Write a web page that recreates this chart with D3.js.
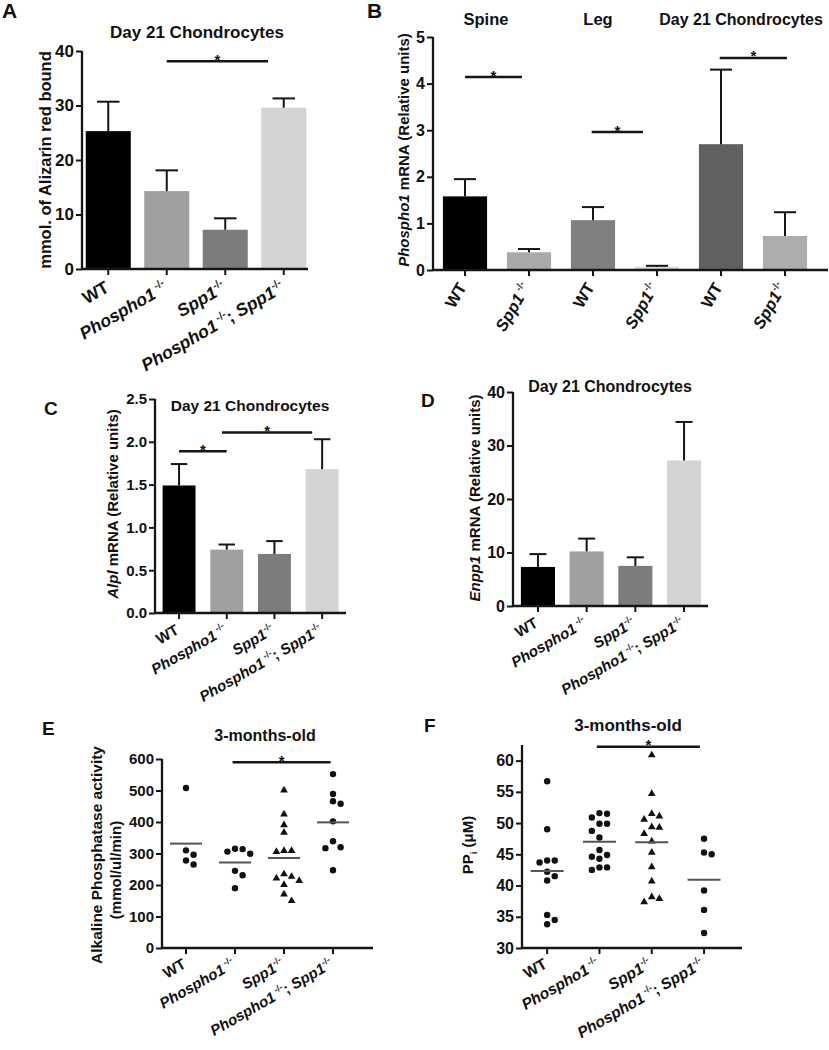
<!DOCTYPE html>
<html><head><meta charset="utf-8">
<script src="https://cdn.jsdelivr.net/npm/d3@7"></script>
<style>
body{margin:0;background:#fff;}
svg text{font-family:"Liberation Sans", Arial, Helvetica, sans-serif;font-weight:bold;fill:#111;white-space:pre;}
</style></head><body>
<svg id="fig" width="829" height="1050"></svg>
<script>
// ---------------- DATA ----------------
const genotypeKeys = ["WT", "Phospho1", "Spp1", "Double"];
const genotypeGreys = ["#000000", "#a0a0a0", "#7c7c7c", "#d4d4d4"];

// Panel A – Alizarin red
const alizarinMean = [25.3, 14.3, 7.2, 29.6];
const alizarinErr  = [5.4, 3.8, 2.1, 1.7];
const alizarinTicks = [0, 10, 20, 30, 40];
const alizarinSig = [[1, 2.73, 38.1]];

// Panel B – Phospho1 mRNA
const phosphoGroups = ["Spine", "Leg", "Day 21 Chondrocytes"];
const phosphoKeys = ["WT", "Spp1sp", "WT", "Spp1", "WT", "Spp1"];
const phosphoMean = [1.58, 0.38, 1.07, 0.07, 2.70, 0.73];
const phosphoErr  = [0.37, 0.07, 0.28, 0.02, 1.60, 0.51];
const phosphoColors = ["#000000", "#a9a9a9", "#808080", "#d8d8d8", "#606060", "#adadad"];
const phosphoTicks = [0, 1, 2, 3, 4, 5];
const phosphoSig = [[0, 0.89, 4.14], [1.98, 2.78, 2.96], [3.98, 5.03, 4.55]];

// Panel C – Alpl mRNA
const alplMean = [1.49, 0.74, 0.69, 1.68];
const alplErr  = [0.25, 0.06, 0.15, 0.35];
const alplTicks = [0, 0.5, 1.0, 1.5, 2.0, 2.5];
const alplSig = [[0, 1, 1.89], [0.9, 2.79, 2.11]];

// Panel D – Enpp1 mRNA
const enppMean = [7.3, 10.2, 7.5, 27.2];
const enppErr  = [2.4, 2.4, 1.6, 7.2];
const enppTicks = [0, 10, 20, 30, 40];

// Panel E – Alkaline phosphatase activity
const alpWT     = [508, 310, 296, 278, 265];
const alpPho    = [315, 314, 306, 299, 245, 231, 190];
const alpSpp    = [499, 423, 389, 365, 307, 307, 304, 233, 225, 220, 212, 199, 169, 148];
const alpDouble = [552, 489, 466, 458, 402, 339, 320, 317, 247];
const alpTicks = [0, 100, 200, 300, 400, 500, 600];
const alpSig = [[0.95, 2.95, 590]];

// Panel F – PPi
const ppiWT     = [56.7, 49.0, 44.0, 44.0, 43.7, 42.2, 41.5, 40.8, 35.3, 34.5, 33.8];
const ppiPho    = [51.6, 51.5, 50.9, 49.9, 49.9, 48.75, 47.7, 45.7, 44.9, 44.6, 44.3, 42.9, 42.9, 42.5];
const ppiSpp    = [60.8, 54.6, 51.4, 51.0, 50.5, 49.3, 49.2, 48.2, 47.0, 45.2, 42.9, 40.6, 38.1, 37.8, 37.3];
const ppiDouble = [47.5, 45.3, 45.0, 39.2, 36.1, 32.4];
const ppiTicks = [30, 35, 40, 45, 50, 55, 60];
const ppiSig = [[0.95, 2.92, 62.2]];
const pointShapes = ["circle", "circle", "triangle", "circle"];

// label text pieces
const labelSpec = {
  WT: [{t: "WT"}],
  Phospho1: [{t: "Phospho1", i: 1}, {t: " -/-", s: 1}],
  Spp1: [{t: "Spp1", i: 1}, {t: "-/-", s: 1}],
  Spp1sp: [{t: "Spp1", i: 1}, {t: " -/-", s: 1}],
  Double: [{t: "Phospho1", i: 1}, {t: " -/-", s: 1}, {t: "; "}, {t: "Spp1", i: 1}, {t: "-/-", s: 1}]
};

// ---------------- DRAWING ----------------
const svg = d3.select("#fig");
const INK = "#151515";

function band(n, r0, step, pad) {
  return d3.scaleBand().domain(d3.range(n)).range([r0, r0 + n * step]).paddingInner(pad).paddingOuter(pad / 2);
}

function axes(g, cfg) {
  const {x, y, x0, xEnd, ticks, fmt, tickFs, yTop} = cfg;
  const ax = g.append("g").attr("transform", `translate(${x0},0)`)
    .call(d3.axisLeft(y).tickValues(ticks).tickFormat(fmt).tickSize(6).tickPadding(2));
  ax.select(".domain").remove();
  ax.selectAll("line").attr("stroke", INK).attr("stroke-width", 2);
  ax.selectAll("text").style("font-size", tickFs + "px").attr("fill", "#111");
  const y0 = y.range()[0];
  const xa = g.append("g").attr("transform", `translate(0,${y0})`)
    .call(d3.axisBottom(x).tickSize(6).tickFormat(""));
  xa.select(".domain").remove();
  xa.selectAll("line").attr("stroke", INK).attr("stroke-width", 2);
  g.append("line").attr("x1", x0).attr("x2", x0).attr("y1", y0).attr("y2", yTop !== undefined ? y(yTop) : y.range()[1])
    .attr("stroke", INK).attr("stroke-width", 2.3);
  g.append("line").attr("x1", x0).attr("x2", xEnd).attr("y1", y0).attr("y2", y0)
    .attr("stroke", INK).attr("stroke-width", 2.3);
}

function xLabels(g, x, y0, keys, fs, rot, dx, dy) {
  keys.forEach((k, i) => {
    const t = g.append("text")
      .attr("transform", `translate(${x(i) + x.bandwidth() / 2 + dx},${y0 + dy}) rotate(${rot})`)
      .attr("text-anchor", "end").style("font-size", fs + "px");
    let raised = false;
    labelSpec[k].forEach(seg => {
      const ts = t.append("tspan").text(seg.t).attr("fill", "#111");
      if (seg.i) ts.style("font-style", "italic");
      if (seg.s) {
        ts.style("font-size", (fs * 0.62) + "px").attr("fill", "#333");
        if (!raised) ts.attr("dy", -fs * 0.42);
        raised = true;
      } else {
        if (raised) ts.attr("dy", fs * 0.42);
        raised = false;
      }
    });
  });
}

function bars(g, x, y, means, errs, colors) {
  const w = x.bandwidth();
  g.selectAll(null).data(means).join("rect")
    .attr("x", (d, i) => x(i)).attr("width", w)
    .attr("y", d => y(d)).attr("height", d => y(0) - y(d))
    .attr("fill", (d, i) => colors[i]);
  means.forEach((m, i) => {
    const c = x(i) + w / 2, top = y(m + errs[i]);
    g.append("line").attr("x1", c).attr("x2", c).attr("y1", y(m)).attr("y2", top).attr("stroke", INK).attr("stroke-width", 2);
    g.append("line").attr("x1", c - w * 0.25).attr("x2", c + w * 0.25).attr("y1", top).attr("y2", top).attr("stroke", INK).attr("stroke-width", 2);
  });
}

function sig(g, x, y, list) {
  list.forEach(([a, b, v]) => {
    const xa = x.range()[0] + x.step() * (a + 0.5), xb = x.range()[0] + x.step() * (b + 0.5);
    g.append("line").attr("x1", xa).attr("x2", xb).attr("y1", y(v)).attr("y2", y(v)).attr("stroke", INK).attr("stroke-width", 2.5);
    g.append("text").attr("x", (xa + xb) / 2).attr("y", y(v) + 3.5).attr("text-anchor", "middle").style("font-size", "15px").text("*");
  });
}

function text(g, x, y, str, fs, anchor) {
  return g.append("text").attr("x", x).attr("y", y).attr("text-anchor", anchor || "middle").style("font-size", fs + "px").text(str);
}
function vlabel(g, cx, cy, parts, fs) {
  const t = g.append("text").attr("transform", `translate(${cx},${cy}) rotate(-90)`).attr("text-anchor", "middle")
    .attr("dy", "0.35em").style("font-size", fs + "px");
  parts.forEach(p => {
    const ts = t.append("tspan").text(p.t);
    if (p.i) ts.style("font-style", "italic");
    if (p.sub) ts.style("font-size", (fs * 0.65) + "px").attr("dy", fs * 0.25);
    if (p.back) ts.attr("dy", -fs * 0.25);
  });
  return t;
}

function swarm(values, y, c, minDist, step) {
  const placed = [];
  return values.map(v => {
    const py = y(v);
    for (let k = 0; k < 60; k++) {
      const off = k === 0 ? 0 : (k % 2 ? 1 : -1) * Math.ceil(k / 2) * step;
      const px = c + off;
      if (placed.every(p => Math.hypot(p[0] - px, p[1] - py) >= minDist)) { placed.push([px, py]); return [px, py]; }
    }
    return [c, py];
  });
}

function scatter(g, x, y, groups, meanW) {
  groups.forEach((vals, i) => {
    const c = x(i) + x.bandwidth() / 2;
    const pts = swarm(vals, y, c, 7.2, 7.6);
    pts.forEach(([px, py]) => {
      if (pointShapes[i] === "triangle") {
        g.append("path").attr("d", d3.symbol(d3.symbolTriangle, 26)()).attr("transform", `translate(${px},${py - 0.5})`).attr("fill", "#111");
      } else {
        g.append("circle").attr("cx", px).attr("cy", py).attr("r", 3.2).attr("fill", "#111");
      }
    });
    const m = d3.mean(vals);
    g.append("line").attr("x1", c - meanW / 2).attr("x2", c + meanW / 2).attr("y1", y(m)).attr("y2", y(m))
      .attr("stroke", "#555").attr("stroke-width", 2);
  });
}

// ---------- Panel A ----------
{
  const g = svg.append("g");
  const x = band(4, 79, 58.5, 0.23);
  const y = d3.scaleLinear([0, 40], [269, 51]);
  bars(g, x, y, alizarinMean, alizarinErr, genotypeGreys);
  axes(g, {x, y, x0: 82, xEnd: 308, ticks: alizarinTicks, fmt: d3.format("d"), tickFs: 17});
  sig(g, x, y, alizarinSig);
  xLabels(g, x, 269, genotypeKeys, 17.5, -30, 2, 22);
  text(g, 197, 38, "Day 21 Chondrocytes", 17);
  vlabel(g, 45, 160, [{t: "mmol. of Alizarin red bound"}], 16.5);
  text(g, 2, 18, "A", 21, "start");
}

// ---------- Panel B ----------
{
  const g = svg.append("g");
  const x = band(6, 433, 64, 0.31);
  const y = d3.scaleLinear([0, 5], [270, 37]);
  bars(g, x, y, phosphoMean, phosphoErr, phosphoColors);
  axes(g, {x, y, x0: 433, xEnd: 828, ticks: phosphoTicks, fmt: d3.format("d"), tickFs: 16});
  sig(g, x, y, phosphoSig);
  xLabels(g, x, 270, phosphoKeys, 16.5, -60, 2, 17);
  const titleX = [486, 598, 741];
  phosphoGroups.forEach((s, k) => text(g, titleX[k], 25, s, k === 2 ? 16 : 16.5));
  vlabel(g, 404, 150, [{t: "Phospho1", i: 1}, {t: " mRNA (Relative units)"}], 15);
  text(g, 367, 18, "B", 21, "start");
}

// ---------- Panel C ----------
{
  const g = svg.append("g");
  const x = band(4, 155.2, 47.7, 0.31);
  const y = d3.scaleLinear([0, 2.5], [613, 399]);
  bars(g, x, y, alplMean, alplErr, genotypeGreys);
  axes(g, {x, y, x0: 155, xEnd: 346, ticks: alplTicks, fmt: d3.format(".1f"), tickFs: 15});
  sig(g, x, y, alplSig);
  xLabels(g, x, 613, genotypeKeys, 15, -30, 1, 20);
  text(g, 250, 411, "Day 21 Chondrocytes", 15.5);
  vlabel(g, 113, 504, [{t: "Alpl", i: 1}, {t: " mRNA (Relative units)"}], 15);
  text(g, 44, 415, "C", 19, "start");
}

// ---------- Panel D ----------
{
  const g = svg.append("g");
  const x = band(4, 513.6, 48.7, 0.30);
  const y = d3.scaleLinear([0, 40], [606, 392]);
  bars(g, x, y, enppMean, enppErr, genotypeGreys);
  axes(g, {x, y, x0: 513, xEnd: 708, ticks: enppTicks, fmt: d3.format("d"), tickFs: 16});
  xLabels(g, x, 606, genotypeKeys, 15, -30, 1, 20);
  text(g, 610, 392, "Day 21 Chondrocytes", 16);
  vlabel(g, 475, 498, [{t: "Enpp1", i: 1}, {t: " mRNA (Relative units)"}], 15);
  text(g, 421, 407, "D", 19, "start");
}

// ---------- Panel E ----------
{
  const g = svg.append("g");
  const x = band(4, 161.5, 49, 0.3);
  const y = d3.scaleLinear([0, 600], [948, 759]);
  axes(g, {x, y, x0: 162, xEnd: 373, ticks: alpTicks, fmt: d3.format("d"), tickFs: 15});
  scatter(g, x, y, [alpWT, alpPho, alpSpp, alpDouble], 32);
  sig(g, x, y, alpSig);
  xLabels(g, x, 948, genotypeKeys, 15, -30, 1, 19);
  text(g, 265, 741, "3-months-old", 16);
  vlabel(g, 97, 855, [{t: "Alkaline Phosphatase activity"}], 15.5);
  vlabel(g, 116, 870, [{t: "(mmol/ul/min)"}], 15);
  text(g, 42, 735, "E", 19, "start");
}

// ---------- Panel F ----------
{
  const g = svg.append("g");
  const x = band(4, 521, 52.3, 0.3);
  const y = d3.scaleLinear([30, 62.5], [948, 745]);
  axes(g, {x, y, x0: 522, xEnd: 742, ticks: ppiTicks, fmt: d3.format("d"), tickFs: 16, yTop: 62.5});
  scatter(g, x, y, [ppiWT, ppiPho, ppiSpp, ppiDouble], 33);
  sig(g, x, y, ppiSig);
  xLabels(g, x, 948, genotypeKeys, 15.5, -30, 1, 19);
  text(g, 628, 731, "3-months-old", 17);
  vlabel(g, 468, 845, [{t: "PP"}, {t: "i", sub: 1}, {t: " (μM)", back: 1}], 15);
  text(g, 424, 732, "F", 19, "start");
}
</script>
</body></html>
